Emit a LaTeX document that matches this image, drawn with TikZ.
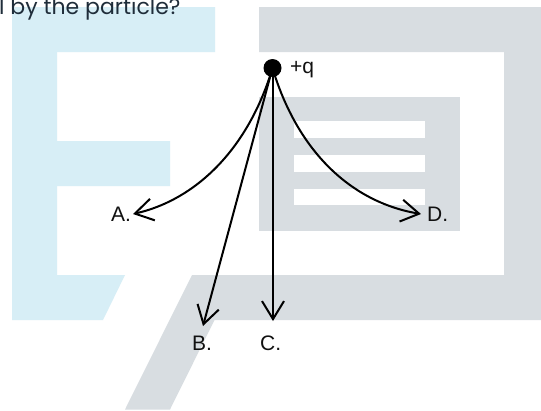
\documentclass[tikz,border=0pt]{standalone}
\usepackage{fontspec}
\setmainfont{Liberation Sans}
\newfontfamily\headfont{Poppins}
\usetikzlibrary{arrows.meta}
\definecolor{logoblue}{HTML}{D7EEF6}
\definecolor{logogray}{HTML}{D8DDE1}
\definecolor{headtext}{HTML}{1F2D3A}
\definecolor{labeltext}{HTML}{111111}
\tikzset{
  x=1pt,y=-1pt,
  wire/.style={line width=2pt,black,-{Straight Barb[length=18pt,width=22pt,line width=2pt]}},
  lab/.style={font=\fontsize{21}{24}\selectfont,text=labeltext,inner sep=0pt,anchor=base west},
  charge/.style={circle,fill=black,minimum size=18pt,inner sep=0pt}
}
\begin{document}
\begin{tikzpicture}
\useasboundingbox (0,0) rectangle (541,410);
\fill[white] (0,0) rectangle (541,410);
% blue letter
\fill[logoblue] (12,7) -- (215,7) -- (215,52) -- (57,52) -- (57,141) -- (170,141) -- (170,186) -- (57,186) -- (57,275) -- (125,275) -- (103,320) -- (12,320) -- cycle;
% gray letter
\fill[logogray] (259,7) -- (541,7) -- (541,320) -- (214.5,320) -- (170,409.5) -- (125,409.5) -- (192,275) -- (504,275) -- (504,52) -- (259,52) -- cycle;
\fill[logogray] (259,97) rectangle (460,230.5);
\fill[white] (293.5,121) rectangle (425,137.5);
\fill[white] (293.5,155) rectangle (425,171.5);
\fill[white] (293.5,189) rectangle (425,205);
% heading fragment, cut by the top edge
\begin{scope}
\clip (0,0) rectangle (541,410);
\node[font=\fontsize{22}{26}\headfont,text=headtext,inner sep=0pt,anchor=base west] (head) at (-1,14.5) {l by the particle?};
\end{scope}
% endpoints
\coordinate (ea) at (133,214);
\coordinate (eb) at (203,326);
\coordinate (ec) at (273,321);
\coordinate (ed) at (421,214);
\node[charge] (q) at (272.5,68) {};
\coordinate (qc) at (273,68);
\draw[wire] (q.center) .. controls (248,150) and (195,200) .. (ea);
\draw[wire] (q.center) -- (eb);
\draw[wire] (qc) -- (ec);
\draw[wire] (q.center) .. controls (297,150) and (350,202) .. (ed);
\node[lab] (lq) at (290,73.5) {+q};
\node[lab] (la) at (111,221) {A.};
\node[lab] (lb) at (192,350) {B.};
\node[lab] (lc) at (260,350) {C.};
\node[lab] (ld) at (427,221.5) {D.};
\end{tikzpicture}
\end{document}
